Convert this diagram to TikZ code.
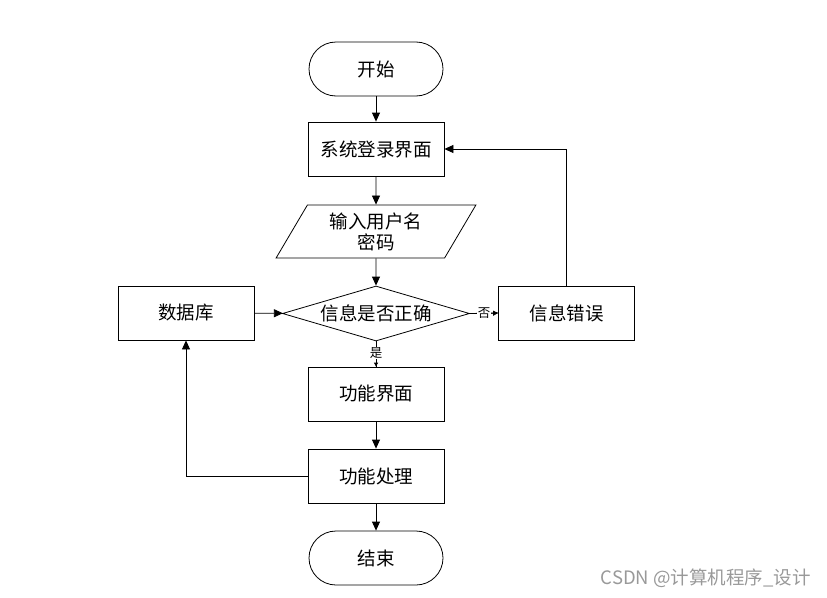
\documentclass[tikz,border=0pt]{standalone}
\usepackage{fontspec}
\setmainfont{Liberation Sans}
\newfontfamily\cjk{Noto Sans CJK SC}
\usetikzlibrary{shapes.geometric,arrows.meta}
\begin{document}
\begin{tikzpicture}[x=1pt,y=-1pt,
  base/.style={draw=black,line width=0.8pt,font=\cjk\fontsize{18.5}{21}\selectfont,inner sep=0pt,align=center},
  term/.style={base,rectangle,rounded corners=27pt,minimum width=134pt,minimum height=54pt},
  proc/.style={base,rectangle,minimum width=136pt,minimum height=54pt},
  io/.style={base,trapezium,trapezium left angle=61,trapezium right angle=119,trapezium stretches=true,minimum width=200pt,minimum height=53pt},
  dec/.style={base,diamond,shape aspect=3.4,minimum width=187pt,minimum height=55pt},
  conn/.style={line width=0.8pt,-{Triangle[length=9pt,width=8pt]}},
  lab/.style={font=\cjk\fontsize{12.5}{13}\selectfont,inner sep=0.5pt,fill=white}
]
\useasboundingbox (0,0) rectangle (827,597);
\node[term] (start) at (376,69) {开始};
\node[proc] (login) at (376,149) {系统登录界面};
\node[io] (input) at (376,231.5) {输入用户名\\密码};
\node[dec] (check) at (376,313.5) {信息是否正确};
\node[proc] (db) at (186,313) {数据库};
\node[proc] (err) at (566.5,313) {信息错误};
\node[proc] (func) at (376,394) {功能界面};
\node[proc] (proc) at (376,476) {功能处理};
\node[term] (end) at (376,558) {结束};

\draw[conn] (start) -- (login);
\draw[conn] (login) -- (input);
\draw[conn] (input) -- (check);
\draw[conn] (db) -- (check);
\draw[line width=0.8pt] (check.south) -- node[lab,pos=0.45] (yes) {是} (func.north);
\draw[conn,-{Triangle[length=4pt,width=4pt]}] (yes.south) -- (func.north);
\draw[line width=0.8pt] (check.east) -- node[lab,pos=0.5] (no) {否} (err.west);
\draw[conn,-{Triangle[length=5pt,width=5pt]}] (no.east) -- (err.west);
\draw[conn] (err.north) |- (login.east);
\draw[conn] (func) -- (proc);
\draw[conn] (proc.west) -| (db.south);
\draw[conn] (proc) -- (end);

\node[font=\cjk\fontsize{18.5}{20}\selectfont,text=black!40,anchor=east,inner sep=0pt] (wm) at (811,578) {CSDN @计算机程序\_设计};
\end{tikzpicture}
\end{document}
